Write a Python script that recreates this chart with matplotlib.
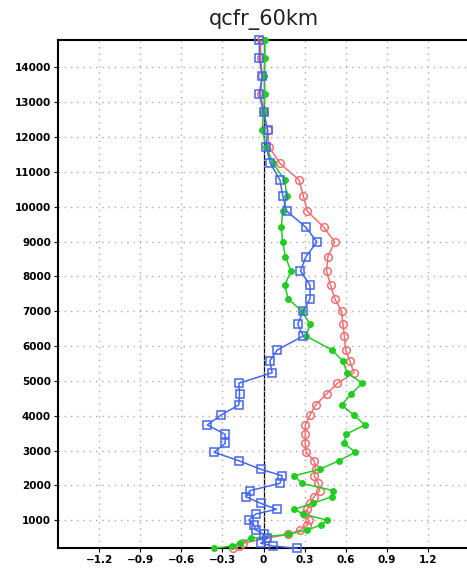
import matplotlib
matplotlib.use("Agg")
import matplotlib.pyplot as plt
import numpy as np

title = "qcfr_60km"

heights = [14783, 14258, 13750, 13234, 12717, 12200, 11722, 11245, 10766, 10316,
           9870, 9409, 8987, 8566, 8155, 7745, 7360, 7000, 6625, 6290,
           5888, 5570, 5237, 4933, 4625, 4310, 4023, 3736, 3469, 3210,
           2953, 2711, 2465, 2281, 2063, 1851, 1679, 1489, 1317, 1182,
           1010, 866, 723, 600, 485, 342, 264, 198]

red = [-0.02, -0.02, -0.01, -0.02, 0.0, 0.03, 0.04, 0.12, 0.26, 0.29,
       0.32, 0.44, 0.52, 0.47, 0.46, 0.49, 0.52, 0.57, 0.58, 0.59,
       0.60, 0.63, 0.66, 0.54, 0.46, 0.38, 0.34, 0.305, 0.305, 0.305,
       0.31, 0.37, 0.38, 0.37, 0.40, 0.41, 0.37, 0.34, 0.32, 0.30,
       0.33, 0.32, 0.27, 0.18, 0.02, -0.15, -0.18, -0.22]

green = [0.01, 0.01, 0.005, 0.01, 0.0, -0.01, 0.02, 0.07, 0.155, 0.17,
         0.14, 0.13, 0.14, 0.16, 0.20, 0.155, 0.18, 0.28, 0.34, 0.31,
         0.50, 0.58, 0.61, 0.72, 0.64, 0.57, 0.66, 0.74, 0.60, 0.59,
         0.67, 0.55, 0.41, 0.225, 0.28, 0.51, 0.50, 0.36, 0.225, 0.29,
         0.46, 0.42, 0.32, 0.18, -0.09, -0.17, -0.23, -0.36]

blue = [-0.03, -0.03, -0.01, -0.03, 0.0, 0.03, 0.02, 0.05, 0.12, 0.14,
        0.17, 0.31, 0.39, 0.31, 0.27, 0.34, 0.34, 0.29, 0.25, 0.29,
        0.10, 0.046, 0.063, -0.18, -0.175, -0.18, -0.31, -0.41, -0.28, -0.28,
        -0.36, -0.18, -0.02, 0.136, 0.12, -0.10, -0.13, -0.02, 0.095, -0.056,
        -0.107, -0.07, -0.056, 0.0, 0.027, -0.02, 0.07, 0.245]

xticks = [-1.2, -0.9, -0.6, -0.3, 0, 0.3, 0.6, 0.9, 1.2]
xticklabels = ["\u22121.2", "\u22120.9", "\u22120.6", "\u22120.3", "0", "0.3", "0.6", "0.9", "1.2"]
yticks = list(range(1000, 15000, 1000))

fig = plt.figure(figsize=(4.67, 5.69), dpi=100)
ax = fig.add_axes([58/467, (569-548.3)/569, 411/467, (548.3-40)/569])

ax.axvline(0, color="black", lw=0.9, zorder=1)
ax.plot(red, heights, color="#F07070", lw=1.1, marker="o", ms=5.5, mfc="none",
        mec="#F07070", mew=1.1, zorder=3, clip_on=False)
ax.plot(green, heights, color="#22CC22", lw=1.1, marker="o", ms=4, mfc="#22CC22",
        mec="#22CC22", zorder=4, clip_on=False)
ax.plot(blue, heights, color="#4466EE", lw=1.1, marker="s", ms=5.5, mfc="none",
        mec="#4466EE", mew=1.1, zorder=5, clip_on=False)

ax.set_xlim(-1.5, 1.5)
ax.set_ylim(heights[-1], heights[0])
ax.set_xticks(xticks)
ax.set_xticklabels(xticklabels)
ax.set_yticks(yticks)
ax.grid(True, color="#aaaaaa", ls=(0, (1, 3.5)), lw=1.0)
ax.tick_params(axis="both", direction="out", length=3, width=0.8, labelsize=7.5, pad=2)
for lab in ax.get_xticklabels() + ax.get_yticklabels():
    lab.set_fontweight("bold")
for s in ax.spines.values():
    s.set_linewidth(1.5)

ax.set_title(title, fontsize=15, pad=11, color="#222222")

fig.savefig("out.png", dpi=100)
